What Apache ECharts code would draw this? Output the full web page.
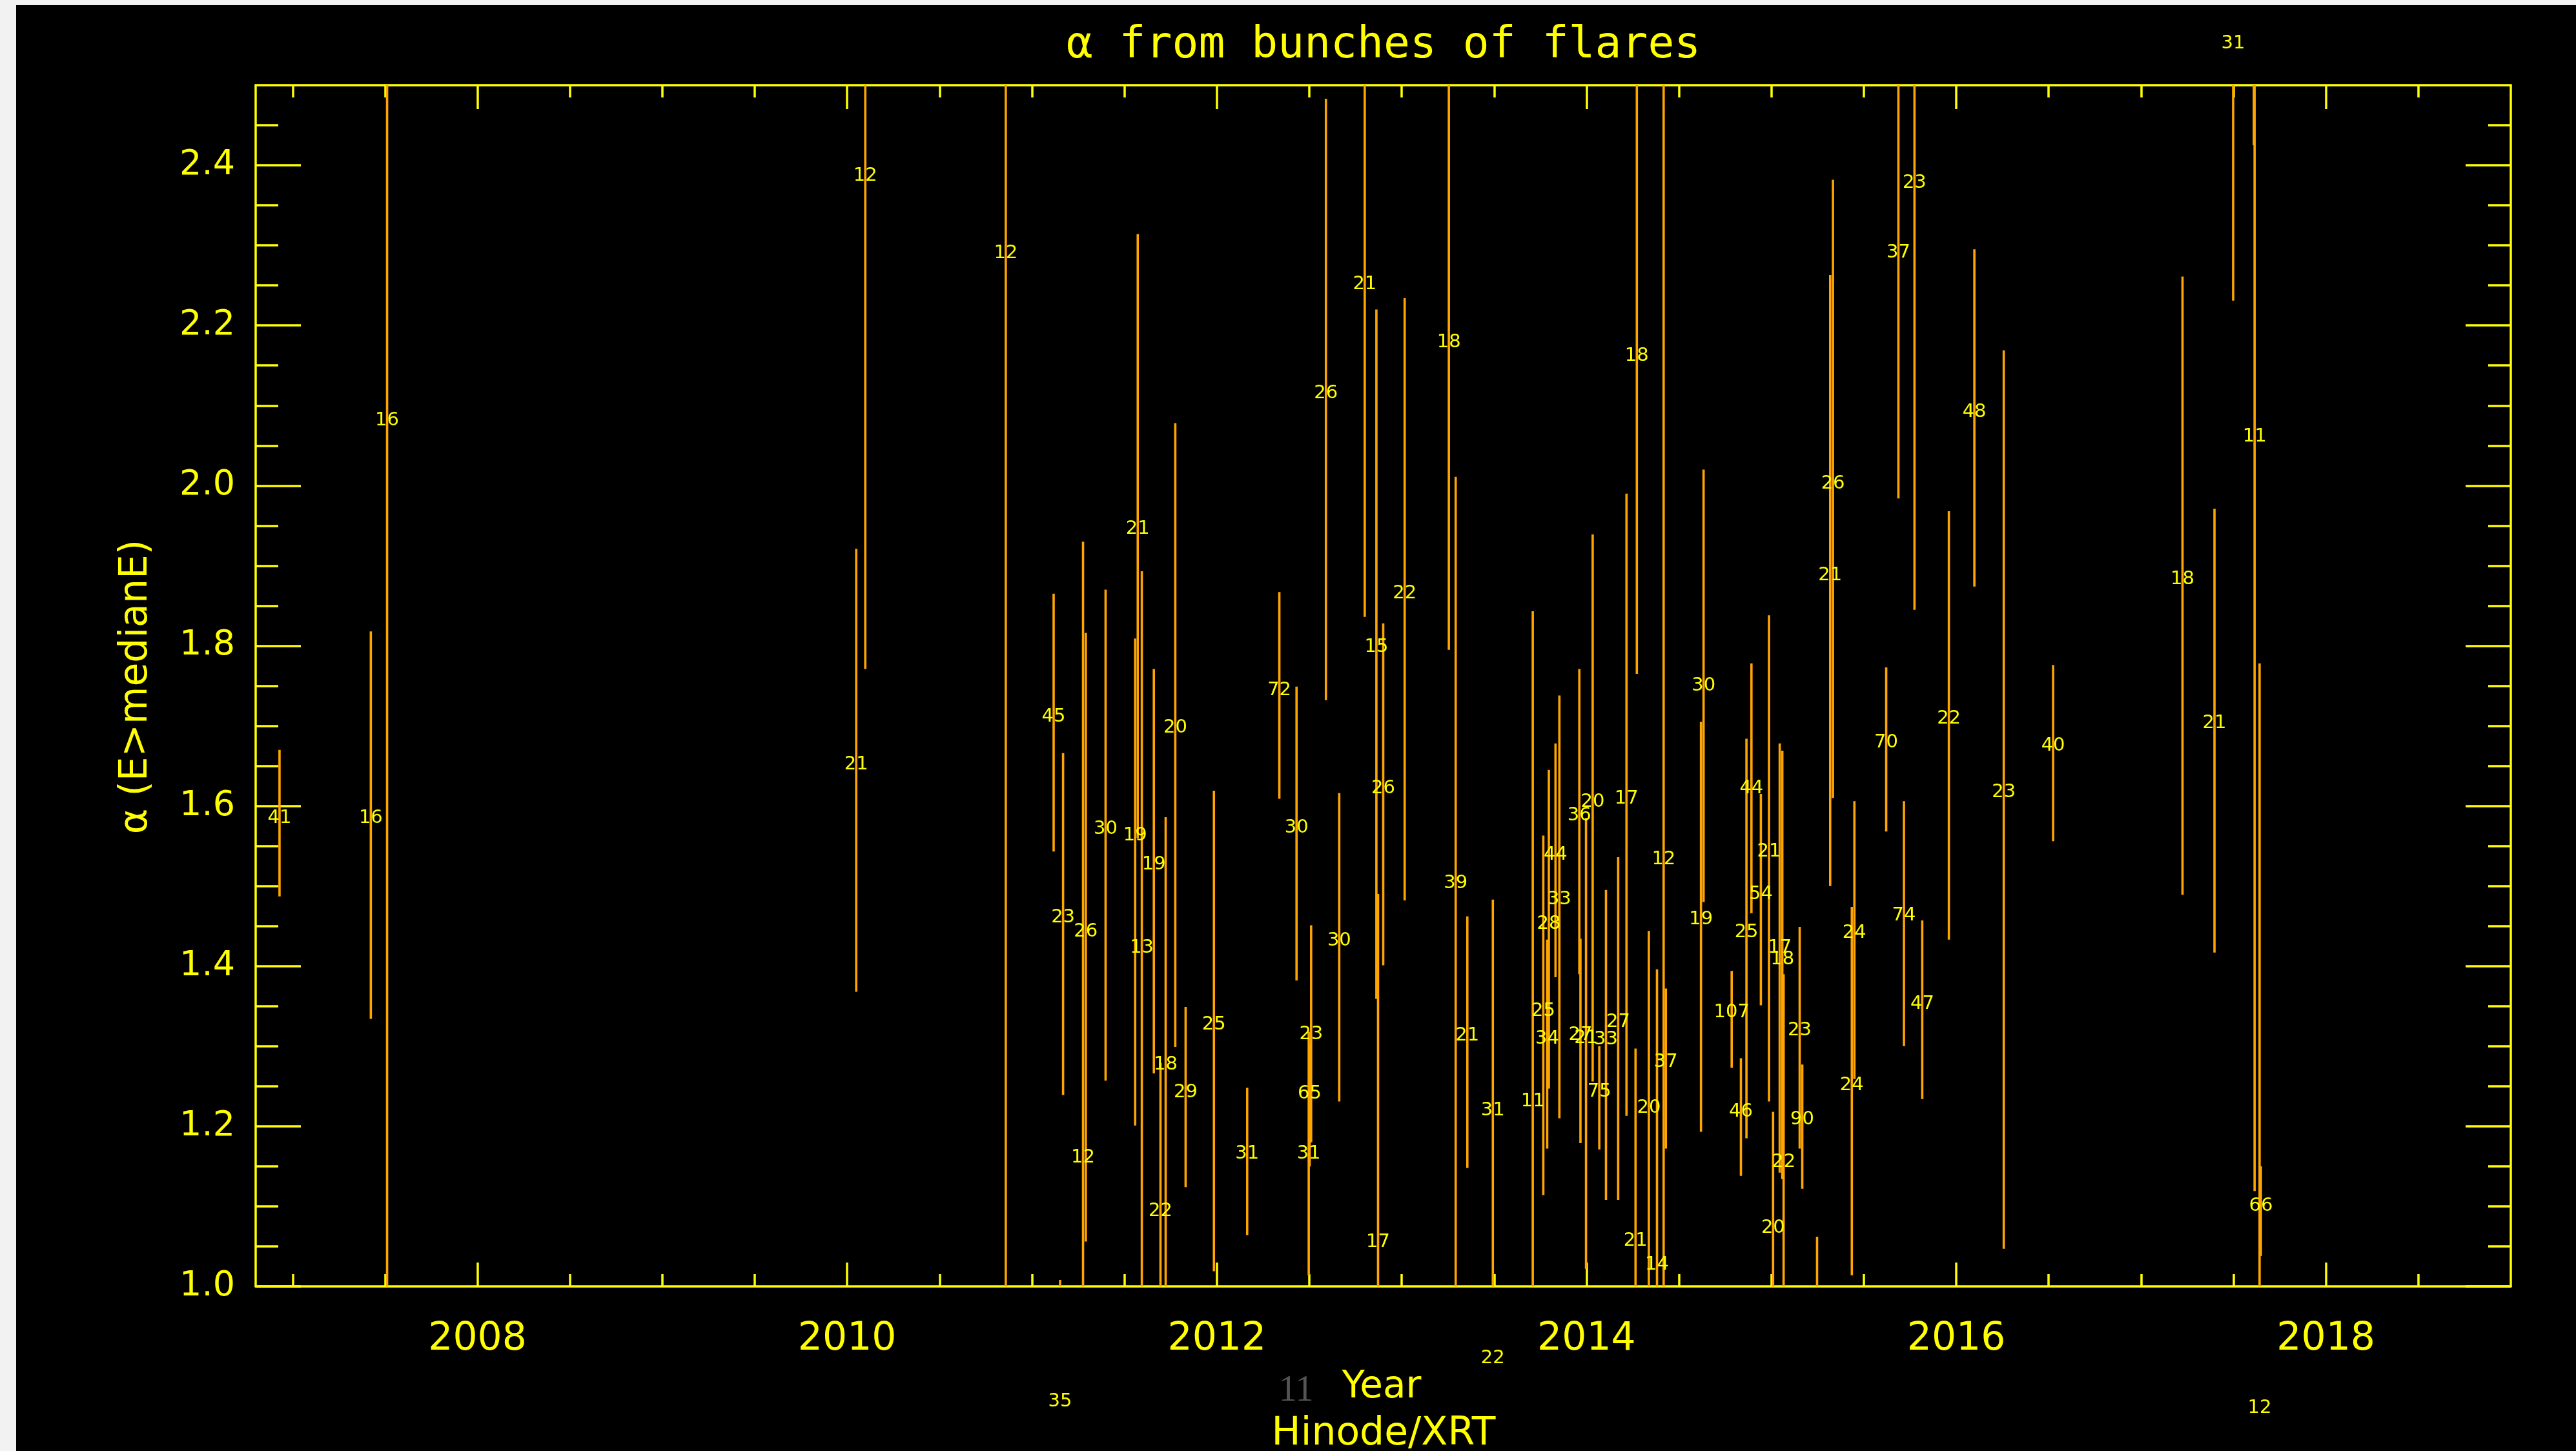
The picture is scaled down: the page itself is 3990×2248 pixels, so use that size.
<!DOCTYPE html>
<html><head><meta charset="utf-8">
<script src="https://cdn.jsdelivr.net/npm/echarts@6/dist/echarts.min.js"></script>
<style>html,body{margin:0;padding:0;background:#000;} #chart{width:3990px;height:2248px;}</style>
</head><body><div id="chart"></div>
<script>
// ---- data: one entry per bunch of flares ----
const years = [2006.929,2007.423,2007.511,2010.049,2010.098,2010.858,2011.117,2011.152,2011.168,2011.276,
 2011.291,2011.398,2011.558,2011.572,2011.594,2011.659,2011.695,2011.723,2011.775,2011.831,
 2011.984,2012.164,2012.338,2012.431,2012.497,2012.502,2012.510,2012.590,2012.662,2012.800,
 2012.863,2012.872,2012.900,2013.016,2013.255,2013.292,2013.355,2013.493,2013.493,2013.709,
 2013.766,2013.787,2013.796,2013.832,2013.853,2013.961,2013.967,2013.997,2014.033,2014.069,
 2014.105,2014.171,2014.216,2014.265,2014.272,2014.337,2014.381,2014.417,2014.429,2014.619,
 2014.633,2014.785,2014.835,2014.865,2014.892,2014.943,2014.987,2015.009,2015.045,2015.059,
 2015.066,2015.153,2015.167,2015.247,2015.318,2015.333,2015.435,2015.449,2015.621,2015.687,
 2015.717,2015.774,2015.816,2015.960,2016.098,2016.257,2016.524,2017.224,2017.397,2017.498,
 2017.610,2017.614,2017.641,2017.648];
const alpha = [1.585,1.585,2.081,1.652,2.387,2.290,1.711,0.856,1.461,1.161,
 1.443,1.571,1.563,1.946,1.423,1.527,1.094,1.277,1.698,1.242,
 1.327,1.166,1.744,1.573,1.166,1.241,1.315,2.115,1.432,2.251,
 1.798,1.055,1.622,1.865,2.179,1.503,1.313,1.220,0.910,1.231,
 1.344,1.309,1.453,1.539,1.483,1.588,1.314,1.310,1.605,1.243,
 1.308,1.330,1.609,1.057,2.162,1.223,1.027,1.533,1.280,1.458,
 1.750,1.342,1.218,1.442,1.622,1.490,1.543,1.073,1.423,1.408,
 1.155,1.320,1.208,0.900,1.888,2.002,1.251,1.441,1.679,2.291,
 1.463,2.378,1.353,1.709,2.092,1.617,1.675,1.883,1.703,2.552,
 2.700,2.061,0.848,1.100];
const alphaLo = [1.487,1.334,0.900,1.368,1.771,0.900,1.543,0.700,1.239,0.390,
 1.056,1.257,1.201,1.560,0.950,1.266,0.910,0.970,1.299,1.124,
 1.019,1.064,1.609,1.382,1.014,1.150,1.180,1.732,1.231,1.836,
 1.359,0.620,1.401,1.482,1.795,0.990,1.148,0.957,0.800,0.620,
 1.114,1.172,1.247,1.386,1.210,1.390,1.179,1.022,1.256,1.171,
 1.108,1.108,1.213,0.816,1.765,0.990,0.660,0.500,1.172,1.193,
 1.480,1.273,1.138,1.185,1.466,1.351,1.231,0.930,1.142,1.134,
 0.920,1.172,1.122,0.740,1.500,1.610,1.014,1.259,1.568,1.984,
 1.300,1.845,1.234,1.433,1.874,1.047,1.556,1.489,1.417,2.231,
 2.425,1.119,0.000,1.038];
const alphaHi = [1.670,1.818,3.200,1.921,3.000,3.000,1.865,1.008,1.666,1.930,
 1.816,1.870,1.809,2.314,1.893,1.771,1.279,1.586,2.078,1.349,
 1.619,1.248,1.867,1.749,1.318,1.303,1.451,2.483,1.616,2.667,
 2.220,1.490,1.828,2.234,2.560,2.011,1.462,1.483,0.990,1.843,
 1.563,1.433,1.645,1.678,1.738,1.771,1.434,1.585,1.939,1.300,
 1.495,1.536,1.990,1.297,2.560,1.444,1.396,2.560,1.372,1.705,
 2.020,1.394,1.285,1.684,1.778,1.615,1.838,1.218,1.678,1.669,
 1.390,1.449,1.277,1.062,2.263,2.382,1.474,1.606,1.773,2.597,
 1.606,2.910,1.457,1.968,2.295,2.169,1.776,2.261,1.971,2.870,
 3.000,3.000,1.778,1.150];
const nFlares = ['41','16','16','21','12','12','45','35','23','12',
 '26','30','19','21','13','19','22','18','20','29',
 '25','31','72','30','31','65','23','26','30','21',
 '15','17','26','22','18','39','21','31','22','11',
 '25','34','28','44','33','36','27','21','20','75',
 '33','27','17','21','18','20','14','12','37','19',
 '30','107','46','25','44','54','21','20','17','18',
 '22','23','90','','21','26','24','24','70','37',
 '74','23','47','22','48','23','40','18','21','31',
 '','11','12','66'];
// a stray grey label below the axis
const greyYears = [2012.429];
const greyAlpha = [0.869];
const greyLabels = ['11'];
// axis ticks
const xMajorTicks = [2008,2010,2012,2014,2016,2018];
const xMinorTicks = [2007,2007.5,2008.5,2009,2009.5,2010.5,2011,2011.5,2012.5,2013,2013.5,2014.5,2015,2015.5,2016.5,2017,2017.5,2018.5];
const yMajorTicks = [1.0,1.2,1.4,1.6,1.8,2.0,2.2,2.4];
const yMinorTicks = [1.05,1.1,1.15,1.25,1.3,1.35,1.45,1.5,1.55,1.65,1.7,1.75,1.85,1.9,1.95,2.05,2.1,2.15,2.25,2.3,2.35,2.45];

const YEL = '#ffff00', ORANGE = '#ffa500';
const X_MIN = 2006.8, X_MAX = 2019.0, Y_MIN = 1.0, Y_MAX = 2.5;

function xAx(pos, ticks, len, line, label) {
  return {
    type: 'value', position: pos, min: X_MIN, max: X_MAX,
    axisLine: {show: line, onZero: false, lineStyle: {color: YEL, width: 3.5}},
    axisTick: {show: true, inside: true, length: len, customValues: ticks, lineStyle: {color: YEL, width: 3.5}},
    axisLabel: label ? {show: true, customValues: ticks, margin: 52, color: YEL, fontFamily: 'DejaVu Sans', fontSize: 60,
      formatter: v => String(Math.round(v))} : {show: false},
    splitLine: {show: false}
  };
}
function yAx(pos, ticks, len, line, label) {
  return {
    type: 'value', position: pos, min: Y_MIN, max: Y_MAX,
    axisLine: {show: line, onZero: false, lineStyle: {color: YEL, width: 3.5}},
    axisTick: {show: true, inside: true, length: len, customValues: ticks, lineStyle: {color: YEL, width: 3.5}},
    axisLabel: label ? {show: true, customValues: ticks, margin: 32, color: YEL, fontFamily: 'DejaVu Sans', fontSize: 54,
      padding: [12, 0, 0, 0], formatter: v => v.toFixed(1)} : {show: false},
    splitLine: {show: false}
  };
}

const rows = years.map((y, i) => [y, alpha[i], alphaLo[i], alphaHi[i]]);
const greyRows = greyYears.map((y, i) => [y, greyAlpha[i]]);

const chart = echarts.init(document.getElementById('chart'), null, {renderer: 'canvas'});
chart.setOption({
  backgroundColor: '#000000',
  animation: false,
  grid: {left: 396, right: 101, top: 132, bottom: 255, outerBoundsMode: 'none', containLabel: false},
  xAxis: [xAx('bottom', xMajorTicks, 37, true, true), xAx('bottom', xMinorTicks, 19, false, false),
          xAx('top', xMajorTicks, 37, true, false), xAx('top', xMinorTicks, 19, false, false)],
  yAxis: [yAx('left', yMajorTicks, 70, true, true), yAx('left', yMinorTicks, 35, false, false),
          yAx('right', yMajorTicks, 70, true, false), yAx('right', yMinorTicks, 35, false, false)],
  graphic: [
    {type: 'rect', left: 0, top: 0, shape: {width: 25, height: 2248}, style: {fill: '#f2f2f2'}, silent: true},
    {type: 'rect', left: 0, top: 0, shape: {width: 3990, height: 8}, style: {fill: '#f2f2f2'}, silent: true},
    {type: 'text', x: 2143, y: 71, style: {text: 'α from bunches of flares', fill: YEL, font: '68px "DejaVu Sans Mono"', align: 'center', verticalAlign: 'middle'}},
    {type: 'text', x: 211, y: 1064, rotation: Math.PI / 2, style: {text: 'α (E>medianE)', fill: YEL, font: '60px "DejaVu Sans"', align: 'center', verticalAlign: 'middle'}},
    {type: 'text', x: 2140, y: 2150, style: {text: 'Year', fill: YEL, font: '58px "DejaVu Sans"', align: 'center', verticalAlign: 'middle'}},
    {type: 'text', x: 2143, y: 2222, style: {text: 'Hinode/XRT', fill: YEL, font: '60px "DejaVu Sans"', align: 'center', verticalAlign: 'middle'}}
  ],
  series: [
    {
      type: 'custom', name: 'errorbars', xAxisIndex: 0, yAxisIndex: 0, clip: true,
      encode: {x: 0, y: 1},
      data: rows,
      renderItem: (params, api) => {
        const x = api.value(0);
        const p1 = api.coord([x, api.value(2)]);
        const p2 = api.coord([x, api.value(3)]);
        return {type: 'line', shape: {x1: p1[0], y1: p1[1], x2: p2[0], y2: p2[1]},
          style: {stroke: ORANGE, lineWidth: 3.6}};
      }
    },
    {
      type: 'custom', name: 'counts', xAxisIndex: 0, yAxisIndex: 0, clip: false, z: 5,
      encode: {x: 0, y: 1},
      data: rows,
      renderItem: (params, api) => {
        const p = api.coord([api.value(0), api.value(1)]);
        return {type: 'text', x: p[0], y: p[1],
          style: {text: nFlares[params.dataIndex], fill: YEL, font: '29px "DejaVu Sans"', align: 'center', verticalAlign: 'middle'}};
      }
    },
    {
      type: 'custom', name: 'grey', xAxisIndex: 0, yAxisIndex: 0, clip: false, z: 5,
      encode: {x: 0, y: 1},
      data: greyRows,
      renderItem: (params, api) => {
        const p = api.coord([api.value(0), api.value(1)]);
        return {type: 'text', x: p[0], y: p[1],
          style: {text: greyLabels[params.dataIndex], fill: '#555555', font: '56px "Liberation Serif"', align: 'center', verticalAlign: 'middle'}};
      }
    }
  ]
});
</script></body></html>
